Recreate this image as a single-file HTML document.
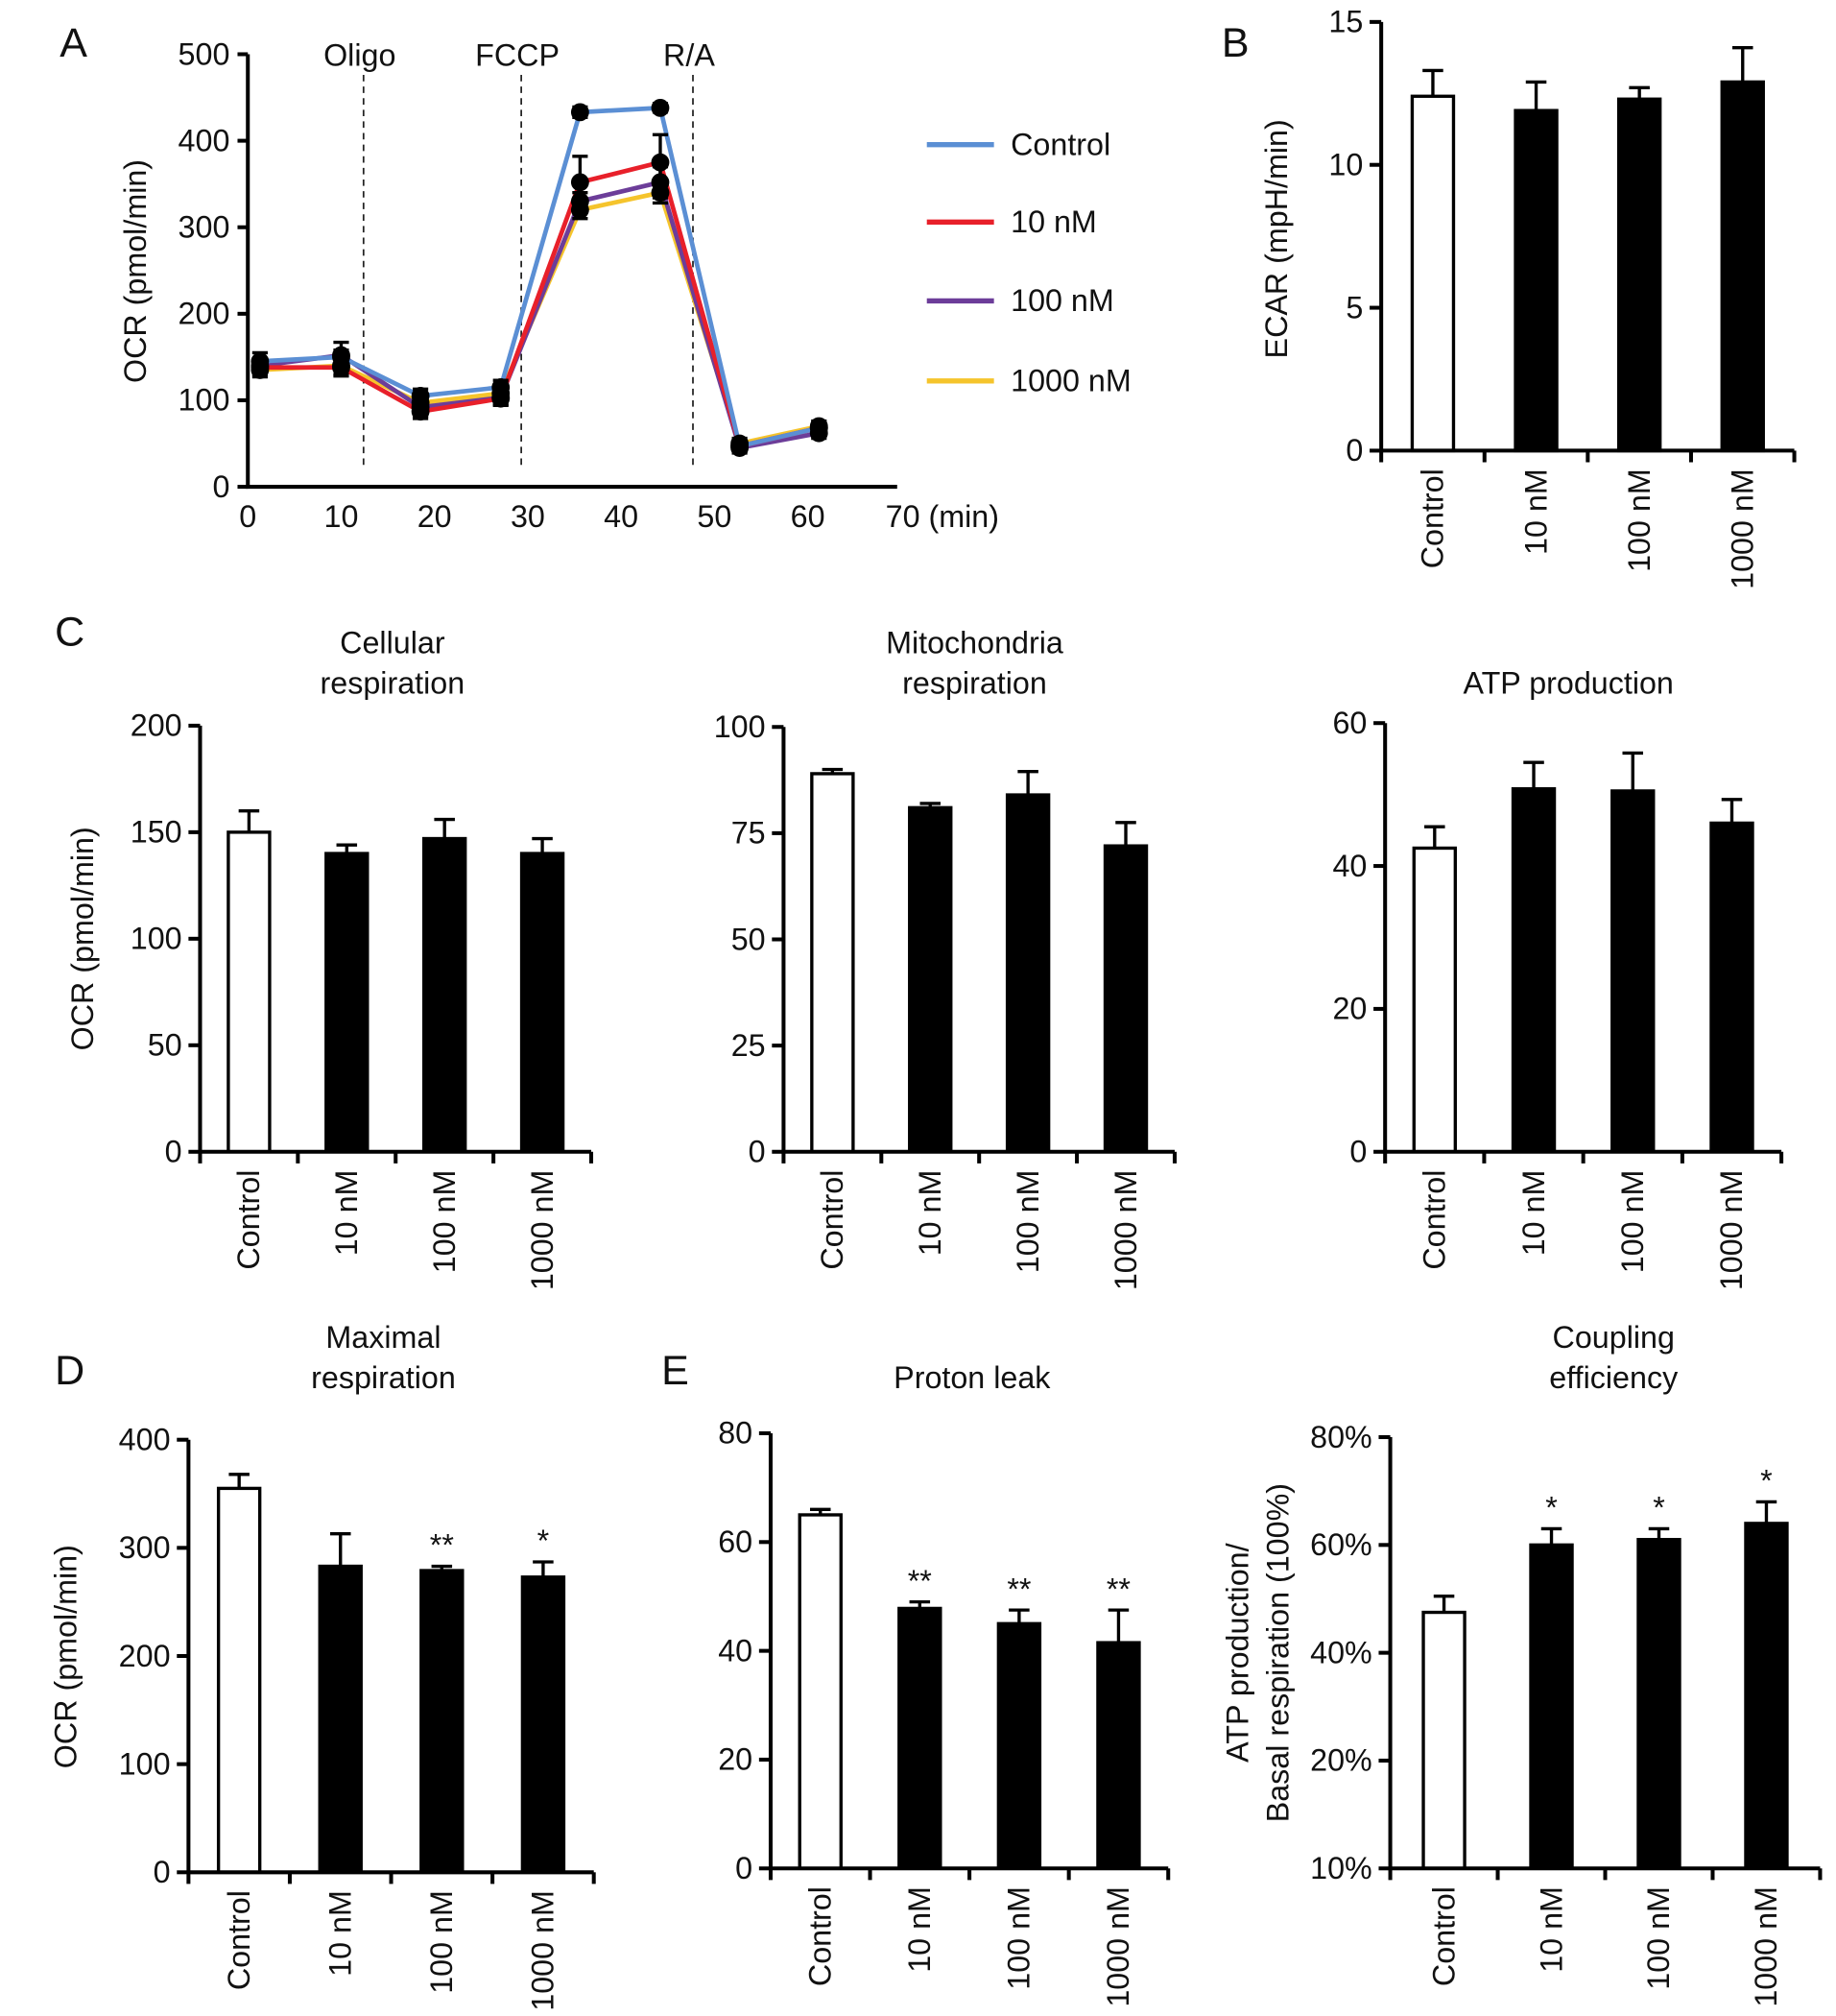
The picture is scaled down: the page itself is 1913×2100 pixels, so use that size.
<!DOCTYPE html>
<html><head><meta charset="utf-8"><style>
html,body{margin:0;padding:0;background:#fff;}
svg{display:block;font-family:"Liberation Sans",Arial,sans-serif;}
</style></head><body>
<svg id="fig" width="1913" height="2100" viewBox="0 0 1422.3 1561.3" preserveAspectRatio="none" xmlns="http://www.w3.org/2000/svg"></svg>
<script>
// ---------- Panel A data ----------
const timeMin = [1.3, 10, 18.5, 27.1, 35.6, 44.2, 52.7, 61.2];
const ocrControl = [145, 150, 105, 115, 433, 438, 47, 68];
const ocr10 = [138, 138, 87, 102, 352, 375, 47, 68];
const ocr100 = [140, 152, 92, 103, 330, 352, 45, 62];
const ocr1000 = [135, 140, 97, 108, 320, 340, 50, 70];
const errControl = [10, 8, 8, 8, 6, 5, 6, 6];
const err10 = [8, 10, 8, 8, 30, 32, 6, 6];
const err100 = [8, 15, 10, 8, 10, 18, 6, 6];
const err1000 = [8, 10, 10, 8, 10, 12, 6, 6];
const injectTimes = [12.4, 29.3, 47.7];
const injectLabels = ["Oligo", "FCCP", "R/A"];
const aYTicks = [0, 100, 200, 300, 400, 500];
const aXTicks = [0, 10, 20, 30, 40, 50, 60, 70];
const seriesNames = ["Control", "10 nM", "100 nM", "1000 nM"];
// ---------- Bar charts data ----------
const categories = ["Control", "10 nM", "100 nM", "1000 nM"];
const ecarVals = [12.4, 11.9, 12.3, 12.9];
const ecarErr = [13.3, 12.9, 12.7, 14.1];
const cellVals = [150, 140, 147, 140];
const cellErr = [160, 144, 156, 147];
const mitoVals = [89, 81, 84, 72];
const mitoErr = [90, 82, 89.5, 77.5];
const atpVals = [42.5, 50.8, 50.5, 46];
const atpErr = [45.5, 54.5, 55.8, 49.3];
const maxVals = [355, 283, 279, 273];
const maxErr = [368, 313, 283, 287];
const maxStars = ["", "", "**", "*"];
const leakVals = [65, 47.8, 45, 41.5];
const leakErr = [66, 49, 47.5, 47.5];
const leakStars = ["", "**", "**", "**"];
const coupVals = [47.5, 60, 61, 64];
const coupErr = [50.5, 63, 63, 68];
const coupStars = ["", "*", "*", "*"];
const ticksB = [0, 5, 10, 15];
const ticksC1 = [0, 50, 100, 150, 200];
const ticksC2 = [0, 25, 50, 75, 100];
const ticksC3 = [0, 20, 40, 60];
const ticksD = [0, 100, 200, 300, 400];
const ticksE = [0, 20, 40, 60, 80];
const ticksF = [10, 20, 40, 60, 80];
const ticksFLabels = ["10%", "20%", "40%", "60%", "80%"];

const NS = "http://www.w3.org/2000/svg";
const svg = document.getElementById('fig');
function el(tag, attrs, parent, txt) {
  const e = document.createElementNS(NS, tag);
  for (const k in attrs) e.setAttribute(k, attrs[k]);
  if (txt !== undefined) e.textContent = txt;
  (parent || svg).appendChild(e);
  return e;
}
function label(x, y, txt, size, anchor, name, rot) {
  const t = el('text', {x: x, y: y, 'font-size': size, 'text-anchor': anchor || 'middle', fill: '#111'}, null, txt);
  
  
  if (rot) t.setAttribute('transform', 'rotate(-90 ' + x + ' ' + y + ')');
  return t;
}
const FS = 24;

// ---------- Panel A ----------
(function () {
  const x0 = 192, x1 = 698, yTop = 42, yBot = 377;
  const xs = t => x0 + (x1 - x0) * t / 70;
  const ys = v => yBot - (yBot - yTop) * v / 500;
  const g = el('g', {});
  
  
  label(57, 44, "A", 32, 'middle', 'panel-label-a');
  const ax = el('path', {d: `M${x0} ${yTop}V${yBot}H695`, stroke: '#000', 'stroke-width': 3, fill: 'none'}, g);
  
  
  aYTicks.forEach(v => {
    el('line', {x1: x0 - 8, x2: x0, y1: ys(v), y2: ys(v), stroke: '#000', 'stroke-width': 3}, g);
    label(x0 - 14, ys(v) + 8, String(v), FS, 'end', 'y-tick-a');
  });
  aXTicks.forEach(v => {
    if (v === 70) label(xs(70) - 12, 408, "70 (min)", FS, 'start', 'x-tick-a');
    else label(xs(v), 408, String(v), FS, 'middle', 'x-tick-a');
  });
  label(113, 210, "OCR (pmol/min)", FS, 'middle', 'y-axis-title-a', true);
  injectTimes.forEach((t, i) => {
    const l = el('line', {x1: xs(t), x2: xs(t), y1: 58, y2: 362, stroke: '#222', 'stroke-width': 1.3, 'stroke-dasharray': '5,4'}, g);
    
    
    label(xs(t) - 3, 51, injectLabels[i], FS, 'middle', 'injection-label');
  });
  const series = [[ocrControl, errControl, '#5b8fd4'], [ocr10, err10, '#e8202a'], [ocr100, err100, '#6c3d99'], [ocr1000, err1000, '#f5c42c']];
  [3, 2, 1, 0].forEach(si => {
    const [vals, , col] = series[si];
    const p = el('polyline', {points: vals.map((v, i) => xs(timeMin[i]) + ',' + ys(v)).join(' '), fill: 'none', stroke: col, 'stroke-width': 3.5}, g);
    
    
  });
  series.forEach(([vals, errs]) => {
    vals.forEach((v, i) => {
      const cx = xs(timeMin[i]);
      el('line', {x1: cx, x2: cx, y1: ys(v - errs[i]), y2: ys(v + errs[i]), stroke: '#000', 'stroke-width': 2.5}, g);
      el('line', {x1: cx - 6, x2: cx + 6, y1: ys(v + errs[i]), y2: ys(v + errs[i]), stroke: '#000', 'stroke-width': 2.5}, g);
      el('line', {x1: cx - 6, x2: cx + 6, y1: ys(v - errs[i]), y2: ys(v - errs[i]), stroke: '#000', 'stroke-width': 2.5}, g);
      const c = el('circle', {cx: cx, cy: ys(v), r: 7, fill: '#000'}, g);
      
      
    });
  });
  const legY = [112, 172, 233, 295];
  series.forEach(([, , col], i) => {
    const l = el('line', {x1: 718, x2: 770, y1: legY[i], y2: legY[i], stroke: col, 'stroke-width': 4}, g);
    
    
    label(783, legY[i] + 8, seriesNames[i], FS, 'start', 'legend-entry');
  });
})();

// ---------- Bar chart helper ----------
function barChart(o) {
  const g = el('g', {});
  
  
  const tv = o.ticks;
  const ys = v => {
    for (let i = 0; i < tv.length - 1; i++) {
      if (v <= tv[i + 1] || i === tv.length - 2) {
        const f = (v - tv[i]) / (tv[i + 1] - tv[i]);
        return o.yBot - (o.yBot - o.yTop) * (i + f) / (tv.length - 1);
      }
    }
  };
  const step = (o.xEnd - o.x0) / categories.length;
  const bw = 32;
  o.vals.forEach((v, i) => {
    const cx = o.x0 + step * (i + 0.5);
    const top = ys(v), etop = ys(o.errs[i]);
    el('line', {x1: cx, x2: cx, y1: top, y2: etop, stroke: '#000', 'stroke-width': 2.5}, g);
    el('line', {x1: cx - 8, x2: cx + 8, y1: etop, y2: etop, stroke: '#000', 'stroke-width': 2.5}, g);
    const r = el('rect', {x: cx - bw / 2, y: top, width: bw, height: o.yBot - top, fill: i === 0 ? '#fff' : '#000', stroke: '#000', 'stroke-width': 2.5}, g);
    
    
    if (o.stars && o.stars[i]) label(cx, etop - 8, o.stars[i], FS, 'middle', 'significance-star');
    label(cx + 8, o.yBot + 14, categories[i], FS, 'end', 'x-tick-label', true);
  });
  const ax = el('path', {d: `M${o.x0} ${o.yTop}V${o.yBot}H${o.xEnd}`, stroke: '#000', 'stroke-width': 3, fill: 'none'}, g);
  
  
  for (let i = 0; i <= categories.length; i++) {
    const x = o.x0 + step * i;
    el('line', {x1: x, x2: x, y1: o.yBot, y2: o.yBot + 9, stroke: '#000', 'stroke-width': 3}, g);
  }
  tv.forEach((v, i) => {
    el('line', {x1: o.x0 - 9, x2: o.x0, y1: ys(v), y2: ys(v), stroke: '#000', 'stroke-width': 3}, g);
    label(o.x0 - 14, ys(v) + 8, o.tickLabels ? o.tickLabels[i] : String(v), FS, 'end', 'y-tick-label');
  });
  if (o.title) o.title.forEach((t, i) => label(o.titleX, o.titleY + i * 31, t, FS, 'middle', 'chart-title'));
  if (o.ylabel) o.ylabel.forEach((t, i) => label(o.ylabelX + i * 31, o.ylabelY, t, FS, 'middle', 'y-axis-title', true));
}

label(957, 44, "B", 32, 'middle', 'panel-label-b');
barChart({name: 'panel-b-ecar', x0: 1070, xEnd: 1390, yTop: 17, yBot: 349, ticks: ticksB, vals: ecarVals, errs: ecarErr, ylabel: ["ECAR (mpH/min)"], ylabelX: 997, ylabelY: 185});
label(54, 500, "C", 32, 'middle', 'panel-label-c');
barChart({name: 'panel-c-cellular', x0: 155, xEnd: 458, yTop: 562, yBot: 892, ticks: ticksC1, vals: cellVals, errs: cellErr, title: ["Cellular", "respiration"], titleX: 304, titleY: 506, ylabel: ["OCR (pmol/min)"], ylabelX: 72, ylabelY: 727});
barChart({name: 'panel-c-mito', x0: 607, xEnd: 910, yTop: 563, yBot: 892, ticks: ticksC2, vals: mitoVals, errs: mitoErr, title: ["Mitochondria", "respiration"], titleX: 755, titleY: 506});
barChart({name: 'panel-c-atp', x0: 1073, xEnd: 1380, yTop: 560, yBot: 892, ticks: ticksC3, vals: atpVals, errs: atpErr, title: ["ATP production"], titleX: 1215, titleY: 537});
label(54, 1072, "D", 32, 'middle', 'panel-label-d');
barChart({name: 'panel-d-maximal', x0: 146, xEnd: 460, yTop: 1115, yBot: 1450, ticks: ticksD, vals: maxVals, errs: maxErr, stars: maxStars, title: ["Maximal", "respiration"], titleX: 297, titleY: 1044, ylabel: ["OCR (pmol/min)"], ylabelX: 59, ylabelY: 1283});
label(523, 1072, "E", 32, 'middle', 'panel-label-e');
barChart({name: 'panel-e-proton-leak', x0: 597, xEnd: 905, yTop: 1110, yBot: 1447, ticks: ticksE, vals: leakVals, errs: leakErr, stars: leakStars, title: ["Proton leak"], titleX: 753, titleY: 1075});
barChart({name: 'panel-e-coupling', x0: 1077, xEnd: 1410, yTop: 1113, yBot: 1447, ticks: ticksF, tickLabels: ticksFLabels, vals: coupVals, errs: coupErr, stars: coupStars, title: ["Coupling", "efficiency"], titleX: 1250, titleY: 1044, ylabel: ["ATP production/", "Basal respiration (100%)"], ylabelX: 967, ylabelY: 1280});
</script>
</body></html>
